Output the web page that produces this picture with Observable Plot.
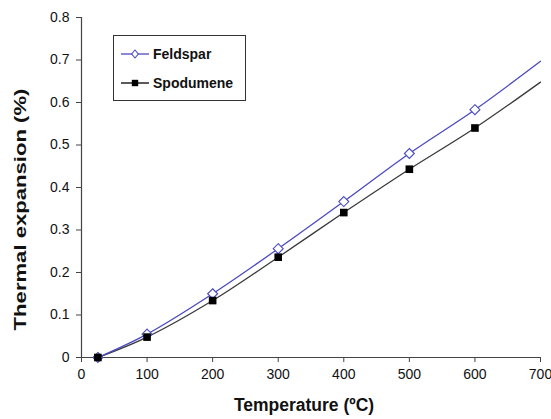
<!DOCTYPE html>
<html>
<head>
<meta charset="utf-8">
<script src="https://cdn.jsdelivr.net/npm/d3@7"></script>
<script src="https://cdn.jsdelivr.net/npm/@observablehq/plot@0.6"></script>
<style>
  html, body { margin: 0; padding: 0; background: #fff; }
  #wrap { position: relative; width: 551px; height: 419px; font-family: "Liberation Sans", Arial, sans-serif; }
  #legend { position: absolute; left: 113px; top: 35px; width: 133px; height: 66px; border: 1px solid #333; background: #fff; box-sizing: border-box; }
  .row { position: absolute; left: 7px; display: flex; align-items: center; font-weight: bold; font-size: 14px; color: #111; line-height: 14px; }
  .row svg { margin-right: 4px; }
</style>
</head>
<body>
<div id="wrap"></div>
<script>
// Data
const temperatures = [25, 100, 200, 300, 400, 500, 600, 700];
const feldspar     = [0.000, 0.055, 0.150, 0.256, 0.367, 0.480, 0.583, 0.697];
const spodumene    = [0.000, 0.048, 0.134, 0.236, 0.341, 0.443, 0.540, 0.648];
const measuredMax = 600; // markers only at measured temperatures
const xTicks = [0, 100, 200, 300, 400, 500, 600, 700];
const yTicks = [0, 0.1, 0.2, 0.3, 0.4, 0.5, 0.6, 0.7, 0.8];
const seriesNames = ["Feldspar", "Spodumene"];
const xTitle = "Temperature (ºC)";
const yTitle = "Thermal expansion (%)";

const rows = [];
temperatures.forEach((t, i) => {
  rows.push({series: seriesNames[0], t, v: feldspar[i]});
  rows.push({series: seriesNames[1], t, v: spodumene[i]});
});
const fRows = rows.filter(d => d.series === seriesNames[0]);
const sRows = rows.filter(d => d.series === seriesNames[1]);

const blue = "#4a4ac0";
const dark = "#3a3a3a";

const chart = Plot.plot({
  width: 551,
  height: 419,
  marginLeft: 81,
  marginRight: 11,
  marginTop: 17,
  marginBottom: 62,
  style: { fontFamily: "Liberation Sans, Arial, sans-serif", fontSize: "14px", color: "#111", background: "#fff" },
  x: { domain: [0, 700] },
  y: { domain: [0, 0.8] },
  marks: [
    Plot.ruleY([0], { stroke: "#444", strokeWidth: 1.2 }),
    Plot.ruleX([0], { stroke: "#444", strokeWidth: 1.2 }),
    Plot.axisX({ ticks: xTicks, tickSize: 5, tickPadding: 7, stroke: "#444", fontSize: 14, fill: "#111", label: null }),
    Plot.axisY({ ticks: yTicks, tickSize: 5, tickPadding: 7, stroke: "#444", fontSize: 14, fill: "#111", tickFormat: d3.format("~g"), label: null }),
    Plot.line(sRows, { x: "t", y: "v", stroke: dark, strokeWidth: 1.3, curve: "catmull-rom" }),
    Plot.line(fRows, { x: "t", y: "v", stroke: blue, strokeWidth: 1.3, curve: "catmull-rom" }),
    Plot.dot(fRows.filter(d => d.t <= measuredMax), { x: "t", y: "v", symbol: "diamond2", r: 4.5, stroke: blue, fill: "white", strokeWidth: 1.1 }),
    Plot.dot(sRows.filter(d => d.t <= measuredMax), { x: "t", y: "v", symbol: "square", r: 4.3, fill: "#000", stroke: "none" }),
    Plot.text([xTitle], { frameAnchor: "bottom", dx: -7, dy: 53, fontWeight: "bold", fontSize: 17.5, fill: "#111" }),
    Plot.text([yTitle], { frameAnchor: "left", textAnchor: "middle", dx: -61, dy: 22, rotate: -90, fontWeight: "bold", fontSize: 17, fill: "#111" })
  ]
});

// stretch the y title along its length, as in the reference
d3.select(chart).selectAll("text").filter(function () { return this.textContent === yTitle; })
  .each(function () {
    const t = this.getAttribute("transform") || "";
    this.setAttribute("transform", t + " scale(1.3,1)");
  });

const wrap = document.getElementById("wrap");
wrap.appendChild(chart);

const legend = document.createElement("div");
legend.id = "legend";
legend.innerHTML = `
  <div class="row" style="top:11px">
    <svg width="28" height="12"><line x1="0" y1="6" x2="28" y2="6" stroke="${blue}" stroke-width="1.3"/><path d="M14,2 L17.3,6 L14,10 L10.7,6 Z" fill="white" stroke="${blue}" stroke-width="1.1"/></svg>${seriesNames[0]}
  </div>
  <div class="row" style="top:40px">
    <svg width="28" height="12"><line x1="0" y1="6" x2="28" y2="6" stroke="#000" stroke-width="1.3"/><rect x="10.8" y="2.8" width="6.4" height="6.4" fill="#000"/></svg>${seriesNames[1]}
  </div>`;
wrap.appendChild(legend);
</script>
</body>
</html>
